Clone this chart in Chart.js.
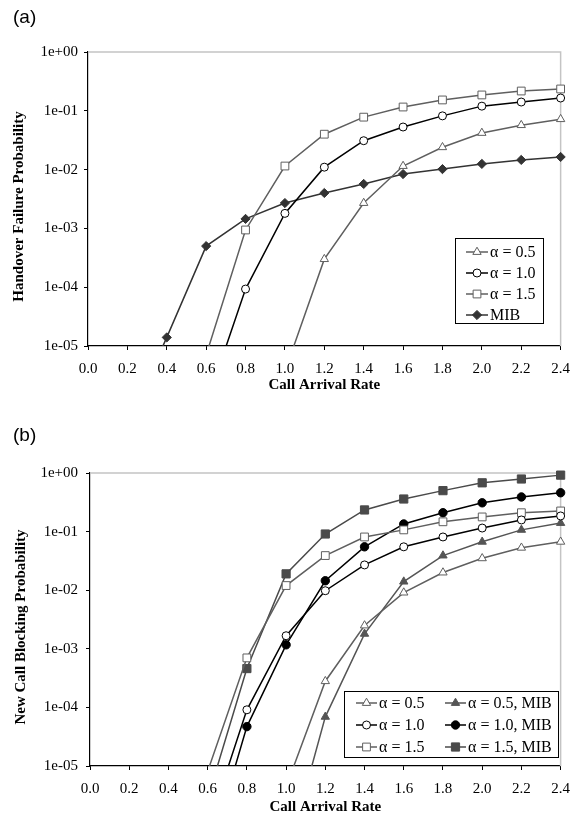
<!DOCTYPE html>
<html>
<head>
<meta charset="utf-8">
<script src="https://cdn.jsdelivr.net/npm/chart.js@4.4.0/dist/chart.umd.min.js"></script>
<style>
  body { margin: 0; background: #fff; width: 580px; height: 815px; position: relative; overflow: hidden; }
  .panel { position: absolute; left: 0; width: 580px; }
  .tag { position: absolute; left: 13px; font: 19px 'Liberation Sans', Arial, sans-serif; line-height: 19px; }
</style>
</head>
<body>
<div class="panel" style="top:0"><canvas id="chartA" width="580" height="400"></canvas></div>
<div class="panel" style="top:420px"><canvas id="chartB" width="580" height="395"></canvas></div>
<div class="tag" style="top:7px">(a)</div>
<div class="tag" style="top:425px">(b)</div>
<script>
const arrivalRate = [0.0, 0.2, 0.4, 0.6, 0.8, 1.0, 1.2, 1.4, 1.6, 1.8, 2.0, 2.2, 2.4];
const yTicks = [1, 1e-1, 1e-2, 1e-3, 1e-4, 1e-5];
const yTickLabels = ['1e+00', '1e-01', '1e-02', '1e-03', '1e-04', '1e-05'];

// (a) handover failure probability
const hoAlpha05 = [null, null, null, null, null, 3.7e-6, 3.0e-4, 2.7e-3, 1.15e-2, 2.4e-2, 4.2e-2, 5.7e-2, 7.2e-2];
const hoAlpha10 = [null, null, null, 1.0e-6, 9.3e-5, 1.8e-3, 1.1e-2, 3.1e-2, 5.3e-2, 8.2e-2, 0.12, 0.141, 0.165];
const hoAlpha15 = [null, null, null, 7e-6, 9.4e-4, 1.15e-2, 4.0e-2, 7.8e-2, 0.116, 0.153, 0.186, 0.217, 0.235];
const hoMIB = [null, 4.5e-7, 1.4e-5, 5.0e-4, 1.45e-3, 2.7e-3, 4.0e-3, 5.7e-3, 8.4e-3, 1.02e-2, 1.25e-2, 1.46e-2, 1.64e-2];

// (b) new call blocking probability
const ncAlpha05 = [null, null, null, null, null, 4.4e-6, 2.8e-4, 2.5e-3, 9.1e-3, 2.0e-2, 3.5e-2, 5.3e-2, 6.7e-2];
const ncAlpha10 = [null, null, null, 8.3e-7, 9.1e-5, 1.67e-3, 9.8e-3, 2.7e-2, 5.5e-2, 8.1e-2, 0.115, 0.158, 0.185];
const ncAlpha15 = [null, null, null, 8.1e-6, 7.0e-4, 1.2e-2, 3.9e-2, 8.1e-2, 0.107, 0.147, 0.178, 0.21, 0.225];
const ncAlpha05MIB = [null, null, null, null, null, 2.5e-7, 6.9e-5, 1.8e-3, 1.4e-2, 3.9e-2, 6.7e-2, 0.107, 0.14];
const ncAlpha10MIB = [null, null, null, 2.5e-7, 4.7e-5, 1.17e-3, 1.45e-2, 5.5e-2, 0.135, 0.21, 0.31, 0.39, 0.46];
const ncAlpha15MIB = [null, null, null, 2.8e-6, 4.6e-4, 1.9e-2, 9.1e-2, 0.234, 0.36, 0.50, 0.68, 0.79, 0.92];

const serif = "'Liberation Serif', 'Times New Roman', serif";

const markers = {
  openTri: { borderColor: '#5f5f5f', pointStyle: 'triangle', pointRadius: 4.8, pointBackgroundColor: '#fff', pointBorderColor: '#5f5f5f' },
  openCircle: { borderColor: '#000', pointStyle: 'circle', pointRadius: 4, pointBackgroundColor: '#fff', pointBorderColor: '#000' },
  openRect: { borderColor: '#5f5f5f', pointStyle: 'rect', pointRadius: 5.5, pointBackgroundColor: '#fff', pointBorderColor: '#5f5f5f' },
  diamond: { borderColor: '#333', pointStyle: 'rectRot', pointRadius: 4.6, pointBackgroundColor: '#333', pointBorderColor: '#333' },
  fillTri: { borderColor: '#555', pointStyle: 'triangle', pointRadius: 4.8, pointBackgroundColor: '#555', pointBorderColor: '#555' },
  fillCircle: { borderColor: '#000', pointStyle: 'circle', pointRadius: 4.2, pointBackgroundColor: '#000', pointBorderColor: '#000' },
  fillRect: { borderColor: '#4a4a4a', pointStyle: 'rect', pointRadius: 5.8, pointBackgroundColor: '#4a4a4a', pointBorderColor: '#4a4a4a' }
};

function series(label, values, style) {
  return Object.assign({
    label: label,
    data: arrivalRate.map((x, i) => ({ x: x, y: values[i] })),
    borderWidth: 1.5,
    pointBorderWidth: 1,
    tension: 0,
    clip: { left: 0, top: 8, right: 8, bottom: 0 }
  }, style);
}

// light grey top/right edge of the plot area
const frame = {
  id: 'frame',
  beforeDatasetsDraw(chart) {
    const { ctx, chartArea: a } = chart;
    ctx.save();
    ctx.strokeStyle = '#c4c4c4';
    ctx.lineWidth = 1.5;
    ctx.beginPath();
    ctx.moveTo(a.left, a.top);
    ctx.lineTo(a.right, a.top);
    ctx.lineTo(a.right, a.bottom);
    ctx.stroke();
    ctx.restore();
  }
};

// boxed legend sitting inside the plot area
const boxLegend = {
  id: 'boxLegend',
  afterDatasetsDraw(chart, args, o) {
    const ctx = chart.ctx;
    ctx.save();
    ctx.fillStyle = '#fff';
    ctx.fillRect(o.left, o.top, o.width, o.height);
    ctx.strokeStyle = '#000';
    ctx.lineWidth = 1;
    ctx.strokeRect(o.left + 0.5, o.top + 0.5, o.width, o.height);
    ctx.font = '16px ' + serif;
    ctx.textBaseline = 'middle';
    chart.data.datasets.forEach((ds, i) => {
      const col = Math.floor(i / o.rows);
      const row = i % o.rows;
      const x = o.left + o.padX + col * o.colWidth;
      const y = o.top + o.padY + row * o.rowHeight;
      ctx.strokeStyle = ds.borderColor;
      ctx.lineWidth = ds.borderWidth;
      ctx.beginPath();
      ctx.moveTo(x, y);
      ctx.lineTo(x + o.sample, y);
      ctx.stroke();
      ctx.fillStyle = ds.pointBackgroundColor;
      ctx.strokeStyle = ds.pointBorderColor;
      ctx.lineWidth = ds.pointBorderWidth;
      Chart.helpers.drawPoint(ctx, { pointStyle: ds.pointStyle, radius: ds.pointRadius, borderWidth: ds.pointBorderWidth, rotation: 0 }, x + o.sample / 2, y);
      ctx.fillStyle = '#000';
      ctx.fillText(ds.label, x + o.sample + o.gap, y + 1);
    });
    ctx.restore();
  }
};

function makeOptions(cfg) {
  return {
    responsive: false,
    animation: false,
    events: [],
    layout: { padding: { left: 0, right: 17, top: cfg.top, bottom: 0 } },
    plugins: {
      legend: { display: false },
      tooltip: { enabled: false },
      boxLegend: cfg.legend
    },
    scales: {
      x: {
        type: 'linear', min: 0, max: 2.4,
        afterBuildTicks: s => { s.ticks = arrivalRate.map(v => ({ value: v })); },
        afterFit: s => { s.height = cfg.xHeight; },
        ticks: { callback: v => v.toFixed(1), font: { family: serif, size: 15 }, color: '#000', padding: 10, maxRotation: 0, autoSkip: false },
        grid: { drawOnChartArea: false, tickLength: 4, color: '#000' },
        border: { color: '#000', width: 1.2 },
        title: { display: true, text: 'Call Arrival Rate', color: '#000', font: { family: serif, size: 15, weight: 'bold', lineHeight: 1 }, padding: { top: 0, bottom: cfg.xTitlePad } }
      },
      y: {
        type: 'logarithmic', min: 1e-5, max: 1,
        afterBuildTicks: s => { s.ticks = yTicks.map(v => ({ value: v })); },
        afterFit: s => { s.width = cfg.yWidth; },
        ticks: { callback: v => yTickLabels[yTicks.indexOf(v)], font: { family: serif, size: 15 }, color: '#000', padding: cfg.yTickPad },
        grid: { drawOnChartArea: false, tickLength: 4, color: '#000' },
        border: { color: '#000', width: 1.2 },
        // trailing spaces push the rotated title a little below the axis middle
        title: { display: true, text: cfg.yTitle + '    ', color: '#000', font: { family: serif, size: 15, weight: 'bold', lineHeight: 1 }, padding: { top: cfg.yTitlePad, bottom: 0 } }
      }
    }
  };
}

new Chart(document.getElementById('chartA'), {
  type: 'line',
  data: {
    datasets: [
      series('\u03b1 = 0.5', hoAlpha05, markers.openTri),
      series('\u03b1 = 1.0', hoAlpha10, markers.openCircle),
      series('\u03b1 = 1.5', hoAlpha15, markers.openRect),
      series('MIB', hoMIB, markers.diamond)
    ]
  },
  options: makeOptions({
    top: 52, xHeight: 54, xTitlePad: 7, yWidth: 88, yTickPad: 6, yTitlePad: 12,
    yTitle: 'Handover Failure Probability',
    legend: { left: 455, top: 238, width: 88, height: 85, rows: 4, colWidth: 0, padX: 11, padY: 14, rowHeight: 21, sample: 22, gap: 2 }
  }),
  plugins: [frame, boxLegend]
});

new Chart(document.getElementById('chartB'), {
  type: 'line',
  data: {
    datasets: [
      series('\u03b1 = 0.5', ncAlpha05, markers.openTri),
      series('\u03b1 = 1.0', ncAlpha10, markers.openCircle),
      series('\u03b1 = 1.5', ncAlpha15, markers.openRect),
      series('\u03b1 = 0.5, MIB', ncAlpha05MIB, markers.fillTri),
      series('\u03b1 = 1.0, MIB', ncAlpha10MIB, markers.fillCircle),
      series('\u03b1 = 1.5, MIB', ncAlpha15MIB, markers.fillRect)
    ]
  },
  options: makeOptions({
    top: 53, xHeight: 49, xTitlePad: 0, yWidth: 90, yTickPad: 8, yTitlePad: 14,
    yTitle: 'New Call Blocking Probability',
    legend: { left: 344, top: 271, width: 214, height: 66, rows: 3, colWidth: 89, padX: 12, padY: 12, rowHeight: 22, sample: 21, gap: 2 }
  }),
  plugins: [frame, boxLegend]
});
</script>
</body>
</html>
